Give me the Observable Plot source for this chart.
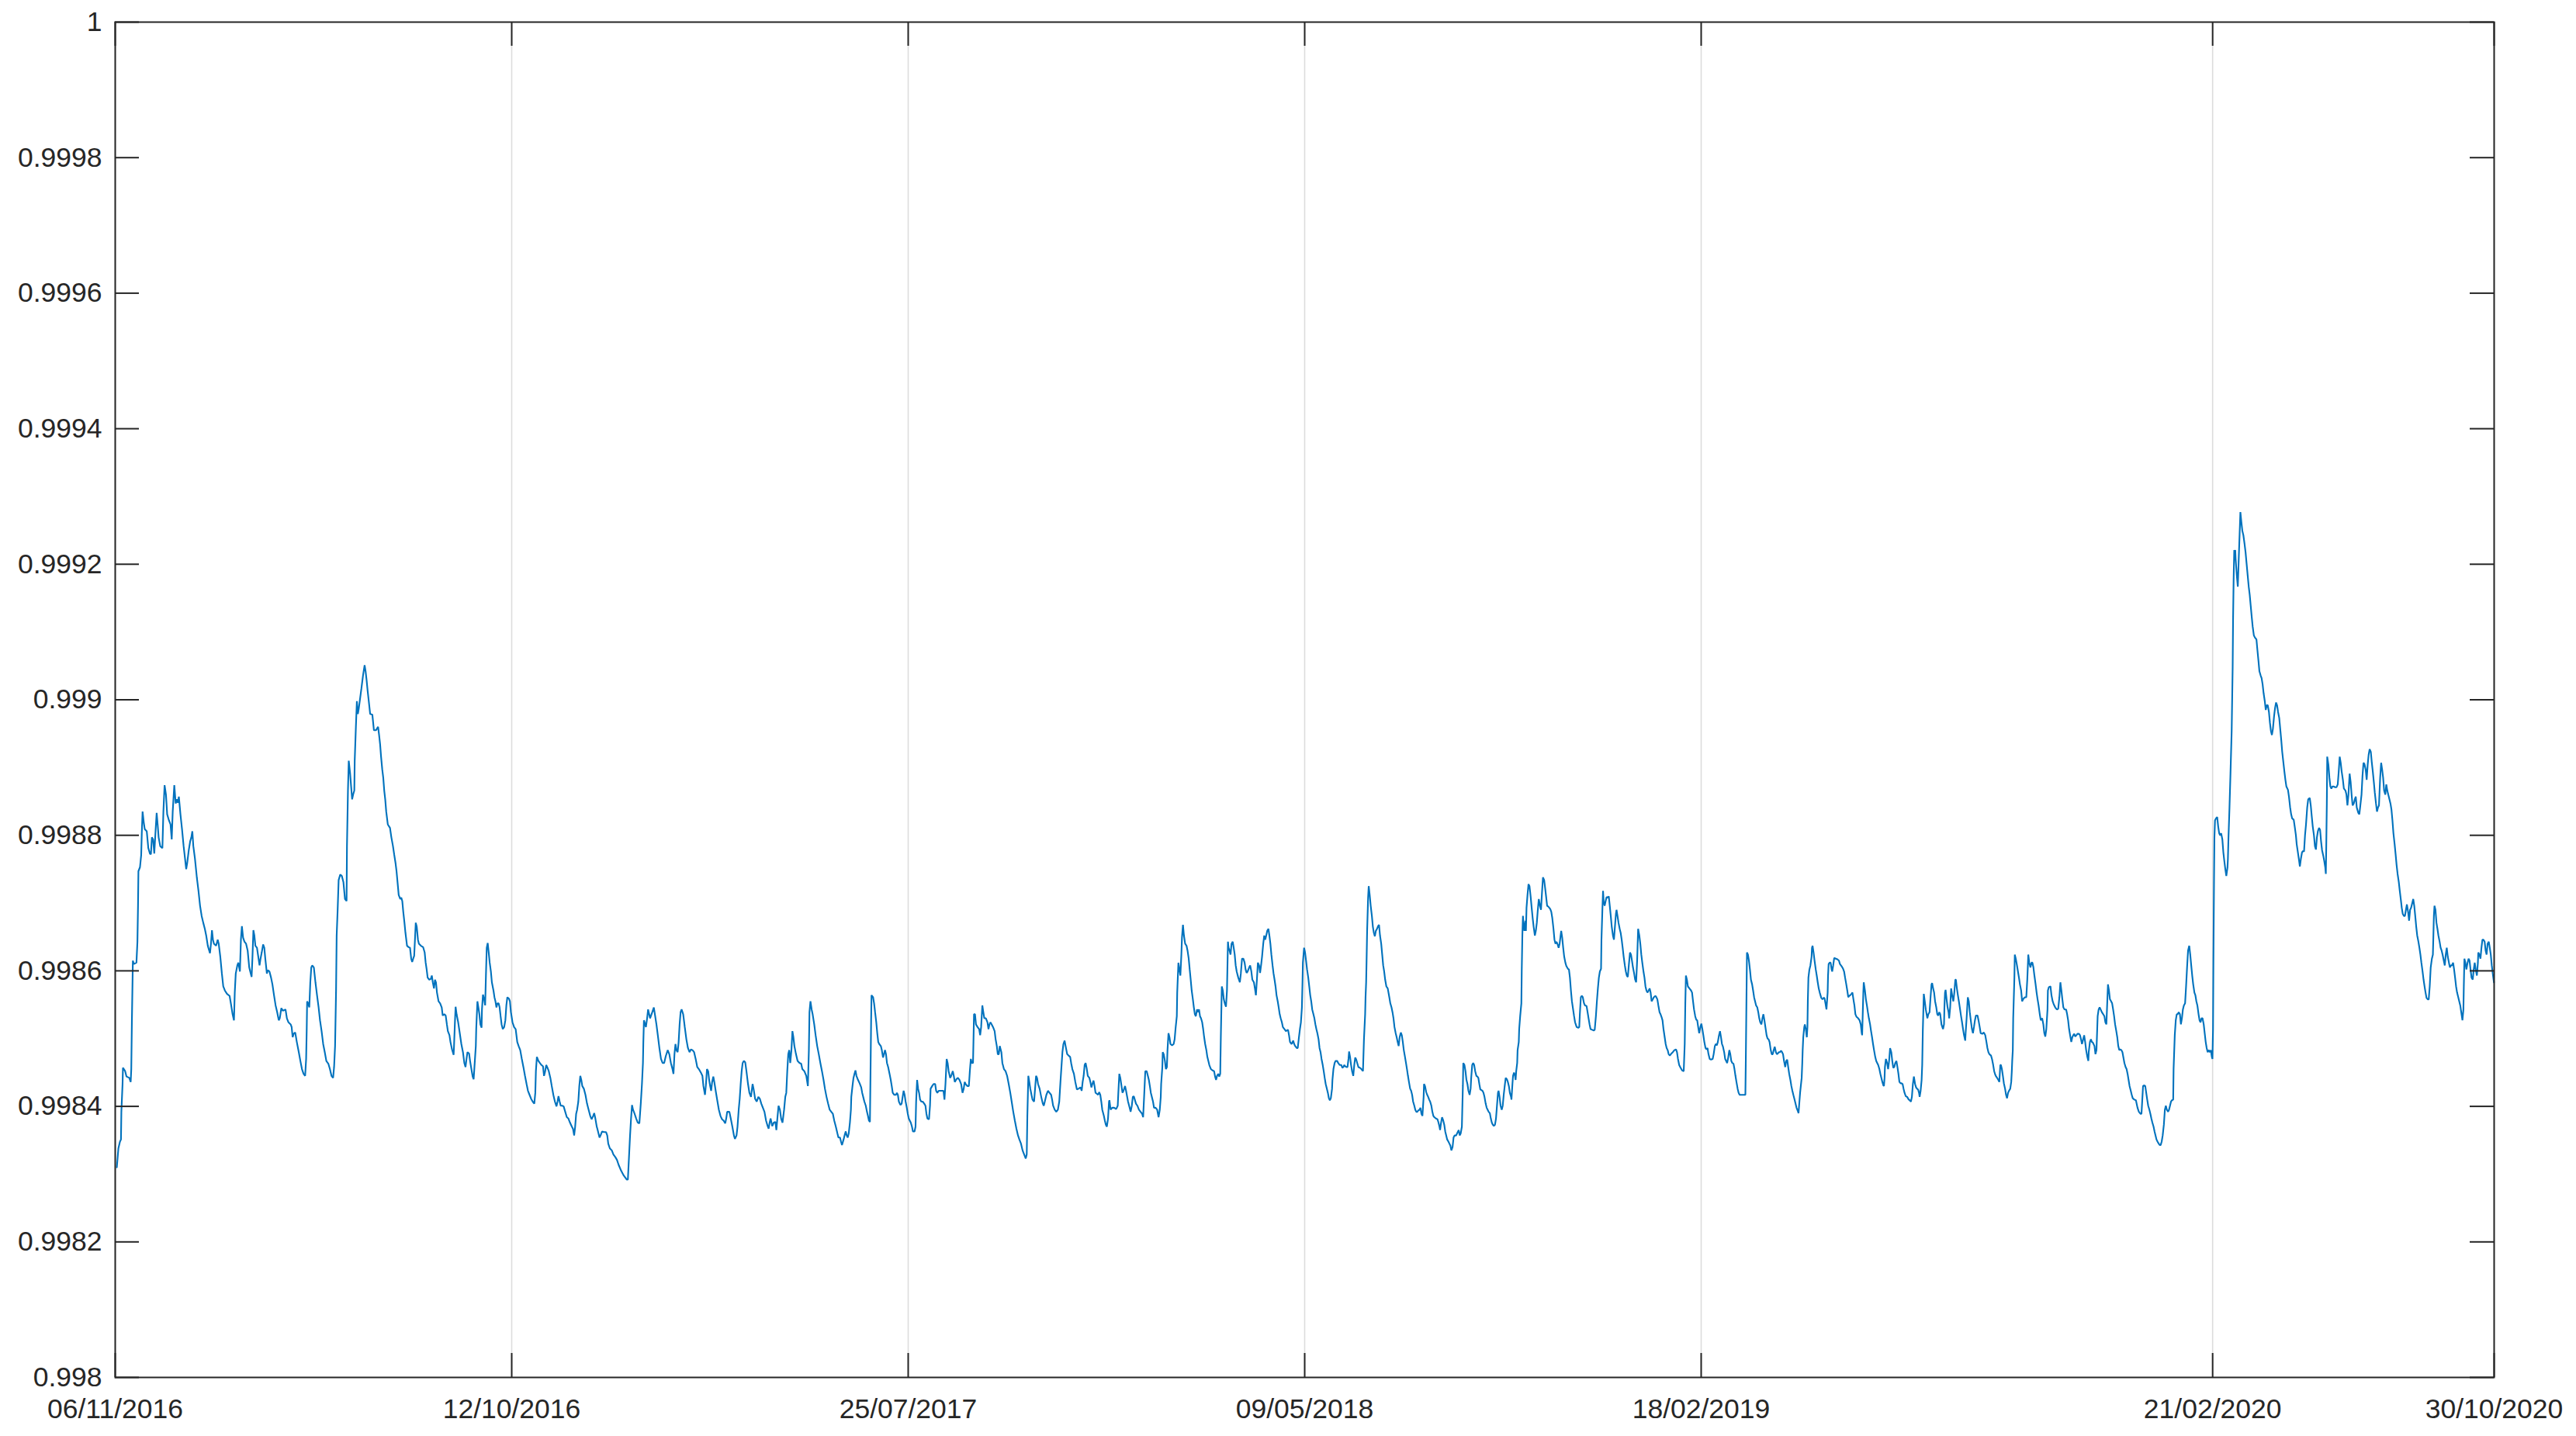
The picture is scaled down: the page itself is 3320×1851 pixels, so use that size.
<!DOCTYPE html>
<html>
<head>
<meta charset="utf-8">
<script src="https://cdn.jsdelivr.net/npm/d3@7"></script>
<script src="https://cdn.jsdelivr.net/npm/@observablehq/plot@0.6"></script>
<style>
  html, body { margin: 0; padding: 0; background: #ffffff; }
  #chart svg { display: block; }
</style>
</head>
<body>
<div id="chart"></div>
<script>
// x: observation index; tick positions and labels
const xTickIndex = [0, 200, 400, 600, 800, 1058, 1200];
const xTickLabels = ["06/11/2016", "12/10/2016", "25/07/2017", "09/05/2018", "18/02/2019", "21/02/2020", "30/10/2020"];
const yTickValues = [0.998, 0.9982, 0.9984, 0.9986, 0.9988, 0.999, 0.9992, 0.9994, 0.9996, 0.9998, 1];
const yTickLabels = ["0.998", "0.9982", "0.9984", "0.9986", "0.9988", "0.999", "0.9992", "0.9994", "0.9996", "0.9998", "1"];

const readings = [
[0.8,0.998310],[1.6,0.998338],[2.4,0.998348],[2.9,0.998351],[3.1,0.998392],[3.7,0.998433],[3.9,0.998457],[5.0,0.998452],[5.7,0.998444],[7.1,0.998442],
[7.8,0.998436],[8.1,0.998455],[8.4,0.998524],[8.9,0.998615],[9.4,0.998610],[10.7,0.998612],[11.2,0.998643],[11.5,0.998696],[11.7,0.998747],[12.5,0.998753],
[13.1,0.998771],[13.4,0.998803],[13.8,0.998835],[14.4,0.998819],[14.9,0.998809],[15.9,0.998806],[16.7,0.998781],[17.5,0.998773],[18.0,0.998772],[18.5,0.998797],
[19.1,0.998794],[19.7,0.998773],[20.4,0.998809],[20.9,0.998833],[21.4,0.998816],[21.9,0.998797],[22.7,0.998784],[23.8,0.998781],[24.3,0.998835],[24.9,0.998874],
[25.6,0.998860],[26.2,0.998831],[27.1,0.998822],[27.9,0.998816],[28.5,0.998794],[29.0,0.998835],[29.8,0.998874],[30.5,0.998847],[31.1,0.998853],[31.6,0.998848],
[32.1,0.998857],[32.9,0.998831],[33.7,0.998809],[34.5,0.998784],[35.2,0.998766],[35.8,0.998750],[36.3,0.998759],[37.1,0.998778],[37.8,0.998791],[38.4,0.998797],
[38.9,0.998806],[39.4,0.998784],[40.2,0.998766],[41.2,0.998737],[42.0,0.998718],[42.8,0.998696],[43.6,0.998681],[44.4,0.998671],[45.2,0.998662],[45.9,0.998652],
[46.7,0.998637],[47.8,0.998626],[48.3,0.998640],[48.8,0.998660],[49.3,0.998646],[49.8,0.998640],[50.9,0.998637],[51.7,0.998646],[52.2,0.998640],[53.0,0.998621],
[53.8,0.998596],[54.5,0.998577],[55.3,0.998571],[56.4,0.998566],[57.7,0.998563],[58.5,0.998549],[59.2,0.998536],[59.9,0.998527],[60.3,0.998568],[60.8,0.998596],
[61.6,0.998608],[62.1,0.998612],[62.9,0.998599],[63.4,0.998646],[63.9,0.998666],[64.5,0.998649],[65.2,0.998643],[66.0,0.998640],[66.8,0.998630],[67.6,0.998605],
[68.1,0.998599],[68.8,0.998591],[69.2,0.998618],[69.7,0.998660],[70.2,0.998652],[70.7,0.998637],[71.5,0.998634],[72.0,0.998624],[72.8,0.998608],[73.3,0.998618],
[73.9,0.998627],[74.6,0.998639],[75.2,0.998634],[75.7,0.998618],[76.5,0.998596],[77.0,0.998601],[77.8,0.998599],[78.6,0.998590],[79.3,0.998580],[80.1,0.998564],
[80.9,0.998549],[81.7,0.998539],[82.5,0.998527],[83.0,0.998530],[83.8,0.998545],[84.6,0.998541],[85.9,0.998543],[86.6,0.998530],[87.4,0.998524],[88.5,0.998521],
[89.0,0.998517],[89.5,0.998502],[90.0,0.998507],[90.8,0.998509],[91.6,0.998495],[92.6,0.998480],[93.4,0.998467],[94.2,0.998455],[95.0,0.998448],[95.8,0.998445],
[96.3,0.998470],[96.6,0.998514],[96.8,0.998555],[97.3,0.998552],[97.9,0.998546],[98.4,0.998583],[98.9,0.998605],[99.4,0.998608],[100.2,0.998605],[101.0,0.998583],
[101.8,0.998564],[102.6,0.998546],[103.3,0.998527],[104.1,0.998511],[104.9,0.998492],[105.7,0.998480],[106.5,0.998467],[107.5,0.998463],[108.3,0.998455],[109.1,0.998445],
[109.9,0.998442],[110.4,0.998458],[110.9,0.998489],[111.4,0.998571],[111.7,0.998652],[112.2,0.998690],[112.7,0.998734],[113.5,0.998742],[114.3,0.998740],[115.1,0.998731],
[115.9,0.998706],[116.7,0.998703],[116.9,0.998784],[117.4,0.998866],[117.8,0.998910],[118.5,0.998891],[119.0,0.998872],[119.5,0.998853],[120.0,0.998860],[120.6,0.998866],
[120.8,0.998910],[121.4,0.998960],[121.9,0.998998],[122.4,0.998979],[122.9,0.998988],[124.2,0.999017],[125.0,0.999036],[125.8,0.999051],[126.3,0.999042],[126.8,0.999029],
[127.3,0.999014],[127.9,0.998998],[128.6,0.998979],[129.7,0.998978],[130.5,0.998955],[131.5,0.998955],[132.6,0.998960],[133.1,0.998948],[133.6,0.998935],[134.1,0.998916],
[134.7,0.998897],[135.2,0.998885],[135.7,0.998866],[136.2,0.998853],[136.7,0.998835],[137.5,0.998816],[138.6,0.998811],[139.3,0.998797],[140.1,0.998784],[140.7,0.998772],
[141.4,0.998759],[141.9,0.998747],[142.5,0.998728],[143.0,0.998712],[143.8,0.998706],[144.3,0.998708],[144.8,0.998703],[145.3,0.998687],[145.9,0.998671],[146.4,0.998656],
[147.2,0.998637],[148.0,0.998635],[148.7,0.998634],[149.3,0.998618],[149.8,0.998613],[150.3,0.998618],[150.8,0.998622],[151.2,0.998646],[151.6,0.998671],[152.1,0.998665],
[152.7,0.998646],[153.2,0.998640],[154.2,0.998637],[155.3,0.998635],[156.1,0.998627],[156.6,0.998612],[157.1,0.998602],[157.6,0.998590],[158.4,0.998587],[159.2,0.998588],
[159.7,0.998593],[160.2,0.998583],[160.8,0.998574],[161.3,0.998587],[161.8,0.998583],[162.3,0.998568],[163.1,0.998555],[163.9,0.998552],[164.7,0.998546],[165.2,0.998534],
[166.0,0.998536],[166.7,0.998534],[167.3,0.998521],[167.8,0.998511],[168.6,0.998505],[169.1,0.998495],[169.9,0.998484],[170.7,0.998476],[170.9,0.998489],[171.4,0.998527],
[171.7,0.998547],[172.2,0.998536],[173.0,0.998524],[173.8,0.998508],[174.6,0.998492],[175.4,0.998480],[176.1,0.998464],[176.7,0.998458],[177.2,0.998470],[177.7,0.998480],
[178.5,0.998478],[179.0,0.998467],[179.5,0.998458],[180.3,0.998444],[180.8,0.998440],[181.4,0.998467],[181.9,0.998489],[182.1,0.998514],[182.7,0.998555],[183.2,0.998546],
[183.7,0.998536],[184.2,0.998521],[184.8,0.998516],[185.0,0.998543],[185.5,0.998565],[186.1,0.998558],[186.6,0.998549],[187.0,0.998593],[187.4,0.998634],[187.9,0.998641],
[188.4,0.998627],[188.9,0.998612],[189.5,0.998599],[190.0,0.998583],[190.8,0.998571],[191.3,0.998561],[191.8,0.998555],[192.3,0.998546],[192.8,0.998552],[193.4,0.998552],
[193.9,0.998546],[194.4,0.998533],[194.9,0.998521],[195.5,0.998514],[196.2,0.998517],[196.8,0.998527],[197.3,0.998549],[197.8,0.998561],[198.6,0.998559],[199.1,0.998555],
[199.6,0.998539],[200.4,0.998524],[201.2,0.998517],[202.0,0.998514],[202.8,0.998495],[203.5,0.998489],[204.3,0.998483],[205.1,0.998470],[205.9,0.998458],[206.7,0.998445],
[207.5,0.998433],[208.2,0.998423],[209.0,0.998417],[209.8,0.998411],[210.6,0.998407],[211.4,0.998404],[211.9,0.998420],[212.2,0.998452],[212.7,0.998473],[213.5,0.998467],
[214.2,0.998464],[215.0,0.998461],[215.8,0.998459],[216.3,0.998445],[216.9,0.998452],[217.4,0.998461],[217.9,0.998458],[218.7,0.998452],[219.5,0.998442],[220.2,0.998430],
[221.0,0.998417],[221.8,0.998407],[222.6,0.998400],[223.1,0.998407],[223.6,0.998415],[224.2,0.998407],[224.7,0.998401],[225.5,0.998401],[226.2,0.998400],[227.0,0.998392],
[227.8,0.998384],[228.6,0.998382],[229.4,0.998376],[230.2,0.998371],[230.9,0.998367],[231.5,0.998357],[232.0,0.998370],[232.5,0.998389],[233.0,0.998395],[233.6,0.998407],
[234.1,0.998430],[234.6,0.998445],[235.1,0.998439],[235.6,0.998430],[236.4,0.998426],[237.2,0.998417],[238.0,0.998404],[238.8,0.998395],[239.6,0.998386],[240.3,0.998381],
[241.1,0.998386],[241.6,0.998390],[242.2,0.998382],[242.9,0.998370],[243.2,0.998367],[244.3,0.998354],[244.8,0.998357],[245.6,0.998363],[246.6,0.998362],[247.6,0.998362],
[248.2,0.998357],[248.7,0.998345],[249.5,0.998338],[250.5,0.998335],[251.3,0.998329],[252.3,0.998325],[253.1,0.998321],[253.9,0.998314],[255.2,0.998305],[256.5,0.998298],
[258.0,0.998292],[258.6,0.998292],[259.7,0.998357],[260.2,0.998382],[260.7,0.998402],[261.2,0.998395],[262.0,0.998389],[262.8,0.998382],[263.6,0.998376],[264.4,0.998375],
[265.1,0.998404],[265.7,0.998433],[266.2,0.998464],[266.4,0.998495],[266.7,0.998527],[267.7,0.998517],[268.3,0.998530],[268.8,0.998543],[269.8,0.998530],[270.9,0.998539],
[271.7,0.998546],[273.0,0.998521],[273.7,0.998505],[274.5,0.998486],[275.3,0.998470],[276.1,0.998464],[276.9,0.998464],[277.7,0.998474],[278.7,0.998483],[279.5,0.998477],
[280.3,0.998464],[281.1,0.998455],[281.6,0.998448],[282.1,0.998477],[282.6,0.998492],[283.1,0.998483],[283.7,0.998480],[284.2,0.998495],[284.7,0.998521],[285.2,0.998539],
[285.7,0.998543],[286.5,0.998536],[287.3,0.998517],[288.1,0.998499],[288.9,0.998486],[289.7,0.998480],[290.4,0.998484],[291.2,0.998483],[292.0,0.998480],[292.8,0.998470],
[293.6,0.998458],[294.4,0.998455],[295.4,0.998450],[296.2,0.998445],[296.7,0.998430],[297.5,0.998417],[298.0,0.998433],[298.5,0.998455],[299.1,0.998452],[299.6,0.998439],
[300.1,0.998430],[300.6,0.998423],[301.1,0.998436],[301.7,0.998444],[302.2,0.998436],[303.0,0.998421],[303.8,0.998407],[304.5,0.998395],[305.3,0.998386],[306.1,0.998381],
[306.9,0.998379],[307.7,0.998375],[308.2,0.998382],[308.7,0.998392],[309.8,0.998392],[310.5,0.998382],[311.3,0.998370],[312.1,0.998357],[312.6,0.998352],[313.4,0.998357],
[313.9,0.998370],[314.5,0.998395],[315.0,0.998411],[315.5,0.998433],[316.0,0.998452],[316.5,0.998464],[317.1,0.998467],[317.8,0.998465],[318.4,0.998452],[319.2,0.998433],
[319.9,0.998420],[320.7,0.998414],[321.5,0.998433],[322.0,0.998426],[322.8,0.998411],[323.6,0.998407],[324.4,0.998414],[325.2,0.998411],[325.9,0.998404],[326.7,0.998398],
[327.5,0.998392],[328.3,0.998379],[329.1,0.998371],[329.6,0.998367],[330.1,0.998376],[330.6,0.998382],[331.4,0.998371],[332.2,0.998376],[333.0,0.998377],[333.5,0.998365],
[334.0,0.998382],[334.6,0.998401],[335.3,0.998395],[335.9,0.998382],[336.6,0.998376],[337.4,0.998395],[338.0,0.998414],[338.5,0.998420],[339.0,0.998452],[339.5,0.998477],
[340.0,0.998483],[340.5,0.998464],[341.1,0.998483],[341.6,0.998511],[342.1,0.998502],[342.6,0.998489],[343.4,0.998477],[344.2,0.998467],[345.2,0.998464],[346.0,0.998463],
[346.6,0.998455],[347.6,0.998452],[348.6,0.998445],[349.4,0.998430],[349.9,0.998483],[350.2,0.998539],[350.7,0.998555],[351.3,0.998543],[351.8,0.998536],[352.6,0.998521],
[353.3,0.998505],[354.1,0.998489],[354.9,0.998477],[355.7,0.998464],[356.5,0.998452],[357.3,0.998439],[358.0,0.998426],[358.8,0.998414],[359.6,0.998404],[360.4,0.998395],
[361.2,0.998392],[362.0,0.998389],[362.7,0.998379],[363.5,0.998370],[364.3,0.998360],[364.8,0.998354],[365.6,0.998354],[366.1,0.998348],[366.6,0.998343],[367.4,0.998351],
[367.9,0.998357],[368.5,0.998363],[369.0,0.998357],[369.5,0.998354],[370.0,0.998360],[370.6,0.998376],[371.1,0.998395],[371.3,0.998414],[371.9,0.998430],[372.4,0.998442],
[372.9,0.998448],[373.4,0.998453],[373.9,0.998445],[374.7,0.998439],[375.5,0.998434],[376.3,0.998428],[376.8,0.998420],[377.3,0.998414],[377.9,0.998407],[378.6,0.998401],
[379.2,0.998392],[379.7,0.998386],[380.2,0.998379],[380.7,0.998377],[381.0,0.998451],[381.3,0.998527],[381.5,0.998564],[382.3,0.998561],[382.8,0.998552],[383.3,0.998539],
[383.9,0.998524],[384.4,0.998508],[384.9,0.998495],[385.4,0.998492],[386.2,0.998489],[386.7,0.998483],[387.3,0.998472],[387.8,0.998477],[388.3,0.998483],[388.8,0.998477],
[389.3,0.998464],[389.9,0.998458],[390.6,0.998448],[391.2,0.998439],[391.7,0.998430],[392.2,0.998420],[393.0,0.998417],[393.8,0.998417],[394.3,0.998420],[394.8,0.998417],
[395.3,0.998407],[396.1,0.998402],[396.7,0.998404],[397.2,0.998414],[397.7,0.998423],[398.2,0.998417],[398.7,0.998407],[399.3,0.998398],[399.8,0.998389],[400.3,0.998382],
[400.8,0.998379],[401.3,0.998376],[401.9,0.998370],[402.4,0.998363],[403.2,0.998363],[403.7,0.998370],[404.0,0.998407],[404.5,0.998439],[405.0,0.998426],[405.5,0.998420],
[406.0,0.998410],[406.6,0.998407],[407.3,0.998407],[408.1,0.998404],[408.7,0.998401],[409.2,0.998389],[409.7,0.998382],[410.5,0.998381],[411.0,0.998401],[411.3,0.998426],
[412.1,0.998430],[412.8,0.998433],[413.6,0.998433],[414.1,0.998423],[414.7,0.998420],[415.4,0.998423],[416.2,0.998423],[417.0,0.998423],[417.8,0.998423],[418.3,0.998410],
[418.8,0.998433],[419.4,0.998470],[419.9,0.998464],[420.4,0.998452],[421.2,0.998442],[421.7,0.998445],[422.5,0.998452],[423.0,0.998445],[423.5,0.998436],[424.3,0.998440],
[425.1,0.998442],[425.9,0.998439],[426.7,0.998433],[427.4,0.998420],[428.0,0.998426],[428.5,0.998436],[429.0,0.998433],[429.8,0.998430],[430.6,0.998430],[431.1,0.998452],
[431.6,0.998470],[432.1,0.998464],[432.7,0.998464],[433.2,0.998536],[433.7,0.998536],[434.2,0.998521],[435.0,0.998517],[435.8,0.998514],[436.3,0.998505],[436.8,0.998517],
[437.4,0.998549],[437.9,0.998539],[438.4,0.998530],[439.2,0.998530],[440.0,0.998524],[440.5,0.998514],[441.0,0.998521],[441.5,0.998524],[442.1,0.998521],[442.8,0.998517],
[443.6,0.998511],[444.1,0.998499],[444.7,0.998489],[445.2,0.998477],[445.7,0.998477],[446.2,0.998489],[447.0,0.998480],[447.5,0.998464],[448.3,0.998455],[449.1,0.998452],
[449.9,0.998445],[450.7,0.998433],[451.5,0.998420],[452.2,0.998407],[453.0,0.998392],[453.8,0.998379],[454.6,0.998367],[455.4,0.998357],[456.1,0.998351],[456.9,0.998345],
[457.7,0.998335],[458.5,0.998329],[459.3,0.998323],[459.8,0.998329],[460.1,0.998385],[460.6,0.998445],[461.1,0.998436],[461.6,0.998426],[462.2,0.998417],[462.7,0.998410],
[463.5,0.998407],[464.0,0.998426],[464.5,0.998445],[465.0,0.998442],[465.5,0.998433],[466.3,0.998426],[467.1,0.998414],[467.9,0.998404],[468.4,0.998401],[468.9,0.998407],
[469.7,0.998417],[470.5,0.998423],[471.3,0.998420],[472.1,0.998417],[472.6,0.998410],[473.1,0.998401],[473.9,0.998395],[474.7,0.998392],[475.5,0.998395],[476.2,0.998407],
[476.8,0.998436],[477.3,0.998458],[477.8,0.998480],[478.3,0.998492],[478.9,0.998497],[479.4,0.998489],[480.2,0.998477],[480.9,0.998475],[481.7,0.998473],[482.2,0.998464],
[482.8,0.998455],[483.6,0.998448],[484.3,0.998436],[485.1,0.998425],[485.9,0.998426],[486.9,0.998428],[487.5,0.998423],[488.0,0.998436],[488.5,0.998445],[489.0,0.998461],
[489.5,0.998464],[490.1,0.998455],[490.6,0.998445],[491.4,0.998442],[491.9,0.998436],[492.4,0.998428],[492.9,0.998433],[493.5,0.998438],[494.0,0.998430],[494.5,0.998420],
[495.0,0.998419],[495.8,0.998417],[496.3,0.998421],[496.9,0.998417],[497.4,0.998407],[497.9,0.998395],[498.7,0.998386],[499.2,0.998379],[499.7,0.998373],[500.2,0.998370],
[500.8,0.998382],[501.3,0.998407],[501.5,0.998409],[502.1,0.998395],[502.9,0.998398],[503.9,0.998398],[504.9,0.998396],[505.7,0.998401],[506.0,0.998420],[506.5,0.998448],
[507.0,0.998442],[507.6,0.998430],[508.1,0.998420],[508.6,0.998423],[509.4,0.998430],[509.9,0.998423],[510.4,0.998415],[510.9,0.998407],[511.7,0.998398],[512.2,0.998392],
[512.8,0.998401],[513.3,0.998414],[513.8,0.998415],[514.3,0.998410],[514.9,0.998404],[515.6,0.998401],[516.4,0.998395],[517.2,0.998392],[518.0,0.998389],[518.5,0.998384],
[519.0,0.998414],[519.6,0.998452],[520.3,0.998452],[520.9,0.998445],[521.4,0.998439],[521.9,0.998430],[522.4,0.998420],[522.9,0.998414],[523.5,0.998407],[524.0,0.998398],
[524.8,0.998398],[525.6,0.998395],[526.3,0.998384],[526.9,0.998395],[527.4,0.998414],[527.6,0.998433],[528.2,0.998458],[528.4,0.998480],[528.9,0.998477],[529.5,0.998467],
[530.0,0.998455],[530.5,0.998458],[530.8,0.998483],[531.3,0.998508],[531.8,0.998502],[532.3,0.998492],[533.1,0.998490],[533.9,0.998492],[534.4,0.998499],[534.9,0.998516],
[535.5,0.998533],[535.7,0.998568],[536.3,0.998612],[536.8,0.998602],[537.3,0.998593],[537.8,0.998624],[538.1,0.998649],[538.6,0.998668],[539.1,0.998652],[539.7,0.998640],
[540.4,0.998637],[540.9,0.998630],[541.5,0.998618],[542.0,0.998602],[542.5,0.998587],[543.0,0.998571],[543.6,0.998558],[544.1,0.998546],[544.6,0.998536],[545.1,0.998533],
[545.7,0.998543],[546.2,0.998539],[546.7,0.998543],[547.2,0.998533],[547.7,0.998530],[548.3,0.998524],[548.8,0.998514],[549.3,0.998502],[549.8,0.998492],[550.4,0.998483],
[550.9,0.998473],[551.4,0.998467],[551.9,0.998461],[552.7,0.998455],[553.5,0.998453],[554.3,0.998452],[554.8,0.998444],[555.3,0.998439],[555.8,0.998445],[556.4,0.998448],
[556.9,0.998444],[557.4,0.998448],[557.7,0.998502],[558.2,0.998577],[558.7,0.998571],[559.2,0.998558],[559.7,0.998552],[560.3,0.998547],[560.8,0.998571],[561.3,0.998643],
[561.6,0.998634],[562.1,0.998630],[562.6,0.998624],[563.1,0.998640],[563.7,0.998643],[564.2,0.998634],[564.7,0.998624],[565.2,0.998608],[565.7,0.998599],[566.5,0.998590],
[567.3,0.998583],[567.8,0.998596],[568.4,0.998618],[569.1,0.998618],[569.7,0.998612],[570.2,0.998602],[570.7,0.998597],[571.2,0.998599],[572.0,0.998605],[572.5,0.998608],
[573.1,0.998599],[573.6,0.998587],[574.4,0.998583],[574.9,0.998574],[575.4,0.998564],[575.9,0.998587],[576.4,0.998612],[577.0,0.998608],[577.5,0.998597],[578.0,0.998608],
[578.5,0.998621],[579.1,0.998640],[579.6,0.998652],[580.1,0.998646],[580.6,0.998652],[581.1,0.998659],[581.7,0.998662],[582.2,0.998652],[582.7,0.998640],[583.2,0.998624],
[583.8,0.998608],[584.3,0.998596],[584.8,0.998587],[585.3,0.998577],[585.8,0.998564],[586.4,0.998555],[586.9,0.998546],[587.4,0.998536],[587.9,0.998530],[588.5,0.998524],
[589.0,0.998517],[589.8,0.998514],[590.5,0.998511],[591.6,0.998513],[592.1,0.998505],[592.6,0.998495],[593.4,0.998492],[594.2,0.998497],[594.7,0.998492],[595.2,0.998489],
[596.0,0.998486],[596.5,0.998486],[597.1,0.998502],[597.6,0.998514],[598.1,0.998524],[598.6,0.998546],[598.9,0.998583],[599.1,0.998612],[599.7,0.998634],[600.2,0.998627],
[600.7,0.998615],[601.2,0.998602],[601.8,0.998590],[602.3,0.998577],[602.8,0.998564],[603.3,0.998555],[603.8,0.998543],[604.4,0.998536],[604.9,0.998530],[605.4,0.998521],
[605.9,0.998514],[606.4,0.998508],[607.0,0.998499],[607.5,0.998486],[608.0,0.998480],[608.5,0.998470],[609.1,0.998461],[609.6,0.998452],[610.1,0.998442],[610.6,0.998433],
[611.2,0.998426],[611.7,0.998420],[612.2,0.998412],[612.7,0.998409],[613.2,0.998412],[613.8,0.998426],[614.0,0.998439],[614.5,0.998455],[615.1,0.998464],[615.6,0.998467],
[616.4,0.998467],[616.9,0.998464],[617.7,0.998461],[618.5,0.998461],[619.0,0.998457],[619.5,0.998458],[620.0,0.998461],[620.5,0.998459],[621.1,0.998458],[621.6,0.998458],
[622.1,0.998470],[622.4,0.998481],[622.9,0.998473],[623.4,0.998461],[623.9,0.998452],[624.5,0.998445],[625.0,0.998461],[625.5,0.998472],[626.0,0.998469],[626.5,0.998464],
[627.1,0.998458],[627.8,0.998457],[628.6,0.998455],[629.4,0.998452],[629.9,0.998499],[630.5,0.998536],[630.7,0.998561],[631.0,0.998583],[631.2,0.998612],[631.5,0.998659],
[632.0,0.998709],[632.3,0.998725],[632.8,0.998712],[633.3,0.998696],[633.9,0.998681],[634.4,0.998665],[634.9,0.998656],[635.4,0.998651],[635.9,0.998659],[636.5,0.998662],
[637.0,0.998666],[637.5,0.998668],[638.0,0.998652],[638.6,0.998640],[639.1,0.998624],[639.6,0.998608],[640.1,0.998599],[640.6,0.998587],[641.2,0.998577],[641.9,0.998574],
[642.7,0.998561],[643.2,0.998552],[643.8,0.998546],[644.3,0.998539],[644.8,0.998530],[645.3,0.998517],[645.9,0.998508],[646.4,0.998502],[646.9,0.998495],[647.4,0.998489],
[647.9,0.998502],[648.5,0.998509],[649.0,0.998505],[649.5,0.998495],[650.0,0.998483],[650.6,0.998473],[651.1,0.998464],[651.6,0.998455],[652.1,0.998445],[652.6,0.998436],
[653.2,0.998426],[653.7,0.998423],[654.2,0.998417],[654.7,0.998407],[655.3,0.998401],[655.8,0.998395],[656.3,0.998392],[656.8,0.998392],[657.3,0.998394],[657.9,0.998395],
[658.4,0.998398],[658.9,0.998389],[659.4,0.998386],[660.0,0.998414],[660.2,0.998433],[660.7,0.998430],[661.3,0.998421],[661.8,0.998417],[662.3,0.998414],[662.8,0.998410],
[663.3,0.998407],[663.9,0.998401],[664.4,0.998392],[664.9,0.998386],[665.4,0.998384],[666.2,0.998382],[667.0,0.998381],[667.5,0.998376],[668.0,0.998370],[668.3,0.998365],
[668.8,0.998376],[669.3,0.998384],[669.9,0.998379],[670.4,0.998373],[670.9,0.998363],[671.4,0.998357],[671.9,0.998351],[672.5,0.998348],[673.0,0.998345],[673.5,0.998342],
[674.0,0.998335],[674.6,0.998340],[675.1,0.998354],[675.6,0.998357],[676.4,0.998357],[677.2,0.998362],[677.7,0.998365],[678.2,0.998357],[678.7,0.998360],[679.3,0.998370],
[679.5,0.998395],[679.8,0.998430],[680.0,0.998464],[680.6,0.998461],[681.1,0.998452],[681.6,0.998439],[682.1,0.998433],[682.6,0.998423],[683.2,0.998417],[683.7,0.998426],
[684.0,0.998442],[684.5,0.998461],[685.0,0.998464],[685.5,0.998461],[686.0,0.998452],[686.6,0.998445],[687.1,0.998444],[687.6,0.998442],[688.1,0.998433],[688.6,0.998425],
[689.2,0.998424],[689.7,0.998423],[690.2,0.998420],[690.7,0.998414],[691.3,0.998404],[691.8,0.998398],[692.3,0.998395],[692.8,0.998392],[693.4,0.998390],[693.9,0.998382],
[694.4,0.998376],[694.9,0.998373],[695.4,0.998371],[696.0,0.998373],[696.5,0.998382],[697.0,0.998401],[697.5,0.998420],[697.8,0.998423],[698.3,0.998414],[698.8,0.998401],
[699.4,0.998395],[699.9,0.998401],[700.4,0.998417],[700.9,0.998430],[701.4,0.998442],[702.0,0.998440],[702.5,0.998436],[703.0,0.998430],[703.5,0.998420],[704.1,0.998414],
[704.3,0.998410],[704.8,0.998433],[705.1,0.998445],[705.6,0.998450],[706.1,0.998445],[706.4,0.998439],[706.7,0.998452],[707.2,0.998464],[707.4,0.998483],[708.0,0.998495],
[708.2,0.998514],[708.7,0.998533],[709.3,0.998552],[709.5,0.998602],[709.8,0.998652],[710.1,0.998681],[710.3,0.998674],[710.8,0.998659],[711.4,0.998674],[711.6,0.998659],
[711.9,0.998693],[712.4,0.998712],[712.9,0.998728],[713.4,0.998725],[714.0,0.998709],[714.5,0.998693],[715.0,0.998678],[715.5,0.998665],[716.1,0.998652],[716.6,0.998659],
[717.1,0.998671],[717.6,0.998690],[718.1,0.998706],[718.7,0.998696],[719.2,0.998690],[719.7,0.998715],[720.2,0.998738],[720.8,0.998734],[721.3,0.998722],[721.8,0.998709],
[722.3,0.998696],[722.8,0.998695],[723.4,0.998693],[723.9,0.998691],[724.4,0.998687],[724.9,0.998678],[725.5,0.998662],[726.0,0.998646],[726.5,0.998640],[727.0,0.998643],
[727.5,0.998640],[728.1,0.998634],[728.6,0.998640],[729.1,0.998652],[729.4,0.998659],[729.9,0.998649],[730.4,0.998634],[730.9,0.998621],[731.5,0.998612],[732.0,0.998607],
[732.8,0.998603],[733.3,0.998602],[733.8,0.998590],[734.3,0.998571],[734.8,0.998555],[735.4,0.998543],[735.9,0.998533],[736.4,0.998524],[737.2,0.998517],[738.0,0.998516],
[738.5,0.998517],[738.8,0.998536],[739.3,0.998561],[739.8,0.998563],[740.3,0.998561],[740.9,0.998552],[741.4,0.998549],[742.2,0.998548],[742.7,0.998539],[743.2,0.998530],
[743.7,0.998521],[744.2,0.998514],[745.0,0.998513],[745.8,0.998512],[746.3,0.998513],[746.9,0.998533],[747.4,0.998555],[747.9,0.998574],[748.4,0.998590],[748.9,0.998599],
[749.5,0.998603],[749.7,0.998646],[750.2,0.998693],[750.5,0.998718],[750.8,0.998703],[751.3,0.998696],[751.8,0.998703],[752.3,0.998709],[752.9,0.998708],[753.4,0.998710],
[753.9,0.998696],[754.4,0.998681],[754.9,0.998665],[755.5,0.998652],[756.0,0.998646],[756.5,0.998665],[757.0,0.998684],[757.3,0.998690],[757.8,0.998681],[758.3,0.998671],
[758.9,0.998662],[759.4,0.998656],[759.9,0.998646],[760.4,0.998634],[760.9,0.998621],[761.5,0.998608],[762.0,0.998599],[762.5,0.998593],[763.0,0.998591],[763.5,0.998608],
[764.1,0.998627],[764.6,0.998624],[765.1,0.998615],[765.6,0.998605],[766.2,0.998596],[766.7,0.998587],[767.2,0.998583],[767.7,0.998615],[768.2,0.998662],[768.8,0.998652],
[769.3,0.998640],[769.8,0.998624],[770.3,0.998612],[770.9,0.998599],[771.4,0.998590],[771.9,0.998577],[772.4,0.998571],[772.9,0.998568],[773.5,0.998571],[774.0,0.998574],
[774.5,0.998568],[775.0,0.998555],[775.6,0.998558],[776.1,0.998561],[776.9,0.998563],[777.4,0.998561],[777.9,0.998558],[778.4,0.998549],[779.0,0.998539],[779.5,0.998536],
[780.0,0.998532],[780.5,0.998527],[781.0,0.998514],[781.6,0.998502],[782.1,0.998492],[782.6,0.998486],[783.1,0.998483],[783.6,0.998477],[784.2,0.998475],[785.0,0.998478],
[785.7,0.998480],[786.5,0.998483],[787.3,0.998484],[787.8,0.998480],[788.3,0.998470],[788.9,0.998461],[789.6,0.998457],[790.4,0.998453],[791.2,0.998452],[791.7,0.998492],
[792.0,0.998552],[792.3,0.998593],[792.8,0.998587],[793.3,0.998577],[794.1,0.998574],[794.9,0.998571],[795.4,0.998568],[795.9,0.998555],[796.4,0.998543],[797.0,0.998533],
[797.5,0.998528],[798.0,0.998527],[798.5,0.998517],[799.0,0.998508],[799.6,0.998517],[800.1,0.998522],[800.6,0.998514],[801.1,0.998505],[801.6,0.998495],[802.2,0.998486],
[802.7,0.998484],[803.2,0.998486],[803.7,0.998477],[804.3,0.998470],[805.0,0.998469],[805.8,0.998470],[806.3,0.998477],[806.9,0.998489],[807.4,0.998492],[807.9,0.998490],
[808.4,0.998495],[809.0,0.998505],[809.5,0.998511],[810.0,0.998502],[810.5,0.998492],[811.0,0.998488],[811.6,0.998480],[812.1,0.998470],[812.6,0.998467],[813.1,0.998464],
[813.7,0.998473],[814.2,0.998483],[814.7,0.998477],[815.2,0.998467],[815.7,0.998464],[816.3,0.998463],[816.8,0.998455],[817.3,0.998445],[817.8,0.998436],[818.4,0.998426],
[818.9,0.998420],[819.4,0.998417],[820.2,0.998417],[821.0,0.998417],[821.7,0.998417],[822.3,0.998417],[822.5,0.998464],[822.8,0.998546],[823.1,0.998627],[823.6,0.998624],
[824.1,0.998615],[824.6,0.998602],[825.1,0.998587],[825.7,0.998580],[826.2,0.998571],[826.7,0.998561],[827.2,0.998555],[827.7,0.998549],[828.3,0.998546],[828.8,0.998539],
[829.3,0.998530],[829.8,0.998524],[830.4,0.998521],[830.9,0.998530],[831.4,0.998536],[831.9,0.998527],[832.4,0.998517],[833.0,0.998505],[833.5,0.998500],[834.0,0.998499],
[834.5,0.998495],[835.1,0.998483],[835.6,0.998477],[836.1,0.998477],[836.6,0.998483],[837.1,0.998488],[837.7,0.998480],[838.2,0.998477],[838.7,0.998478],[839.2,0.998480],
[839.7,0.998480],[840.3,0.998482],[840.8,0.998480],[841.3,0.998477],[841.8,0.998467],[842.4,0.998458],[842.9,0.998467],[843.4,0.998469],[843.9,0.998458],[844.4,0.998448],
[845.0,0.998439],[845.5,0.998430],[846.0,0.998423],[846.5,0.998417],[847.1,0.998410],[847.6,0.998404],[848.1,0.998398],[848.9,0.998392],[849.1,0.998390],[849.4,0.998401],
[849.9,0.998420],[850.7,0.998442],[851.0,0.998464],[851.2,0.998483],[851.5,0.998502],[852.0,0.998517],[852.3,0.998521],[852.8,0.998514],[853.3,0.998502],[853.6,0.998517],
[853.8,0.998555],[854.1,0.998590],[854.6,0.998602],[855.1,0.998608],[855.7,0.998621],[855.9,0.998634],[856.2,0.998637],[856.7,0.998627],[857.2,0.998615],[857.8,0.998602],
[858.3,0.998593],[858.8,0.998583],[859.3,0.998574],[859.8,0.998568],[860.6,0.998560],[861.2,0.998558],[861.7,0.998560],[862.2,0.998560],[862.7,0.998552],[863.2,0.998543],
[863.8,0.998568],[864.0,0.998593],[864.3,0.998610],[864.8,0.998612],[865.3,0.998612],[865.8,0.998602],[866.1,0.998599],[866.6,0.998608],[867.1,0.998619],[867.9,0.998618],
[868.7,0.998617],[869.5,0.998615],[870.0,0.998610],[870.8,0.998607],[871.6,0.998603],[872.1,0.998599],[872.6,0.998590],[873.2,0.998580],[873.7,0.998571],[874.2,0.998561],
[874.7,0.998563],[875.2,0.998564],[875.8,0.998566],[876.3,0.998568],[876.8,0.998558],[877.3,0.998549],[877.8,0.998536],[878.4,0.998532],[879.2,0.998530],[879.9,0.998527],
[880.5,0.998521],[881.0,0.998508],[881.2,0.998505],[881.5,0.998536],[881.8,0.998568],[882.0,0.998583],[882.6,0.998571],[883.1,0.998558],[883.6,0.998549],[884.1,0.998539],
[884.6,0.998530],[885.2,0.998521],[885.7,0.998511],[886.2,0.998502],[886.7,0.998492],[887.2,0.998483],[887.8,0.998473],[888.3,0.998467],[888.8,0.998464],[889.3,0.998461],
[889.9,0.998455],[890.4,0.998448],[890.9,0.998442],[891.4,0.998436],[891.9,0.998431],[892.2,0.998430],[892.5,0.998442],[892.7,0.998458],[893.2,0.998470],[893.8,0.998464],
[894.3,0.998455],[894.8,0.998467],[895.3,0.998486],[895.9,0.998480],[896.4,0.998467],[896.9,0.998457],[897.4,0.998458],[897.9,0.998464],[898.5,0.998467],[899.0,0.998458],
[899.5,0.998448],[900.0,0.998436],[900.6,0.998434],[901.1,0.998434],[901.6,0.998433],[902.1,0.998426],[902.6,0.998420],[903.2,0.998415],[903.9,0.998414],[904.7,0.998410],
[905.2,0.998409],[905.8,0.998407],[906.3,0.998414],[906.8,0.998433],[907.3,0.998444],[907.9,0.998433],[908.4,0.998428],[908.9,0.998426],[909.4,0.998425],[909.9,0.998420],
[910.2,0.998414],[910.7,0.998423],[911.2,0.998439],[911.5,0.998461],[911.8,0.998511],[912.3,0.998566],[912.8,0.998555],[913.3,0.998543],[913.9,0.998533],[914.1,0.998530],
[914.6,0.998536],[915.2,0.998539],[915.7,0.998561],[916.2,0.998580],[916.5,0.998582],[917.0,0.998574],[917.5,0.998568],[918.0,0.998555],[918.6,0.998546],[919.1,0.998536],
[919.6,0.998534],[920.1,0.998539],[920.6,0.998536],[921.2,0.998521],[922.0,0.998514],[922.5,0.998521],[922.7,0.998546],[923.0,0.998568],[923.3,0.998572],[923.8,0.998558],
[924.3,0.998546],[924.8,0.998539],[925.1,0.998530],[925.6,0.998546],[926.1,0.998574],[926.6,0.998564],[927.2,0.998555],[927.7,0.998568],[928.2,0.998587],[928.5,0.998587],
[929.0,0.998574],[929.5,0.998564],[930.0,0.998555],[930.6,0.998543],[931.1,0.998533],[931.6,0.998524],[932.1,0.998514],[932.6,0.998505],[933.2,0.998497],[933.4,0.998508],
[933.9,0.998530],[934.5,0.998561],[935.0,0.998555],[935.5,0.998539],[936.0,0.998527],[936.6,0.998514],[937.1,0.998508],[937.6,0.998517],[938.1,0.998527],[938.6,0.998534],
[939.4,0.998534],[939.9,0.998527],[940.5,0.998517],[941.0,0.998508],[941.8,0.998507],[942.6,0.998509],[943.3,0.998505],[943.9,0.998495],[944.4,0.998486],[944.9,0.998480],
[945.4,0.998477],[946.2,0.998475],[946.7,0.998470],[947.3,0.998461],[947.8,0.998452],[948.3,0.998447],[948.8,0.998444],[949.3,0.998442],[949.9,0.998439],[950.4,0.998436],
[950.9,0.998461],[951.2,0.998461],[951.7,0.998455],[952.2,0.998445],[952.7,0.998434],[953.3,0.998426],[953.8,0.998417],[954.3,0.998412],[954.8,0.998420],[955.3,0.998423],
[955.9,0.998426],[956.4,0.998436],[956.7,0.998452],[956.9,0.998467],[957.2,0.998483],[957.4,0.998530],[958.0,0.998590],[958.2,0.998624],[958.7,0.998618],[959.3,0.998608],
[959.8,0.998599],[960.3,0.998590],[960.8,0.998580],[961.4,0.998571],[961.9,0.998555],[962.4,0.998558],[962.9,0.998560],[963.4,0.998561],[964.0,0.998561],[964.5,0.998587],
[964.8,0.998608],[965.0,0.998624],[965.5,0.998612],[966.1,0.998605],[966.6,0.998612],[967.1,0.998612],[967.6,0.998605],[968.1,0.998593],[968.7,0.998580],[969.2,0.998568],
[969.7,0.998558],[970.2,0.998549],[970.8,0.998536],[971.3,0.998527],[972.0,0.998530],[972.6,0.998521],[973.1,0.998508],[973.6,0.998503],[974.1,0.998514],[974.7,0.998543],
[974.9,0.998571],[975.4,0.998576],[976.2,0.998577],[976.7,0.998564],[977.3,0.998555],[977.8,0.998551],[978.6,0.998546],[979.4,0.998543],[980.1,0.998544],[980.7,0.998561],
[981.2,0.998583],[981.7,0.998571],[982.2,0.998558],[982.7,0.998546],[983.3,0.998543],[984.1,0.998543],[984.6,0.998536],[985.1,0.998527],[985.6,0.998514],[986.1,0.998505],
[986.7,0.998495],[987.2,0.998502],[987.7,0.998505],[988.2,0.998507],[988.7,0.998503],[989.3,0.998505],[989.8,0.998507],[990.6,0.998507],[991.1,0.998505],[991.6,0.998499],
[992.1,0.998492],[992.7,0.998499],[993.2,0.998505],[993.7,0.998495],[994.2,0.998483],[994.8,0.998473],[995.3,0.998467],[995.5,0.998480],[996.1,0.998495],[996.6,0.998499],
[997.1,0.998495],[997.6,0.998494],[998.4,0.998489],[998.9,0.998477],[999.4,0.998483],[1000.0,0.998533],[1000.5,0.998543],[1001.0,0.998546],[1001.5,0.998543],[1002.1,0.998539],
[1002.8,0.998536],[1003.4,0.998533],[1003.9,0.998524],[1004.4,0.998521],[1004.7,0.998543],[1005.2,0.998580],[1005.7,0.998571],[1006.2,0.998558],[1006.8,0.998555],[1007.3,0.998552],
[1007.8,0.998543],[1008.3,0.998533],[1008.8,0.998521],[1009.4,0.998511],[1009.9,0.998502],[1010.4,0.998489],[1010.9,0.998483],[1011.4,0.998484],[1012.0,0.998483],[1012.5,0.998480],
[1013.0,0.998472],[1013.5,0.998464],[1014.1,0.998458],[1014.6,0.998455],[1015.1,0.998448],[1015.6,0.998439],[1016.1,0.998430],[1016.7,0.998423],[1017.2,0.998417],[1017.7,0.998412],
[1018.5,0.998410],[1019.3,0.998409],[1020.1,0.998398],[1020.8,0.998392],[1021.6,0.998389],[1022.1,0.998389],[1022.4,0.998404],[1022.9,0.998430],[1023.5,0.998431],[1024.0,0.998430],
[1024.5,0.998420],[1025.0,0.998410],[1025.5,0.998401],[1026.1,0.998395],[1026.6,0.998389],[1027.1,0.998382],[1027.6,0.998376],[1028.2,0.998370],[1028.7,0.998363],[1029.2,0.998357],
[1029.7,0.998351],[1030.2,0.998348],[1030.8,0.998345],[1031.3,0.998343],[1031.8,0.998343],[1032.3,0.998348],[1032.8,0.998357],[1033.4,0.998373],[1033.9,0.998395],[1034.4,0.998401],
[1034.9,0.998395],[1035.5,0.998392],[1036.0,0.998395],[1036.5,0.998401],[1037.0,0.998407],[1037.5,0.998409],[1038.1,0.998410],[1038.3,0.998455],[1038.9,0.998505],[1039.4,0.998527],
[1039.9,0.998536],[1040.4,0.998536],[1040.9,0.998539],[1041.5,0.998536],[1042.0,0.998521],[1042.5,0.998530],[1043.0,0.998543],[1043.5,0.998549],[1044.1,0.998552],[1044.6,0.998577],
[1045.1,0.998605],[1045.6,0.998630],[1046.2,0.998637],[1046.7,0.998624],[1047.2,0.998608],[1047.7,0.998593],[1048.2,0.998580],[1048.8,0.998568],[1049.3,0.998564],[1049.8,0.998555],
[1050.3,0.998549],[1050.9,0.998536],[1051.4,0.998527],[1051.9,0.998524],[1052.4,0.998530],[1052.9,0.998530],[1053.5,0.998521],[1054.0,0.998508],[1054.5,0.998495],[1055.0,0.998486],
[1055.5,0.998480],[1056.1,0.998483],[1056.6,0.998480],[1057.1,0.998483],[1057.6,0.998473],[1057.9,0.998470],[1058.2,0.998514],[1058.4,0.998618],[1058.7,0.998734],[1058.9,0.998797],
[1059.2,0.998822],[1059.7,0.998825],[1060.3,0.998827],[1060.8,0.998813],[1061.3,0.998803],[1061.8,0.998800],[1062.3,0.998803],[1062.9,0.998794],[1063.4,0.998775],[1063.9,0.998762],
[1064.4,0.998750],[1064.9,0.998740],[1065.5,0.998753],[1065.7,0.998765],[1066.0,0.998797],[1066.5,0.998841],[1067.0,0.998891],[1067.6,0.998954],[1068.1,0.999048],[1068.3,0.999117],
[1068.6,0.999180],[1068.9,0.999221],[1069.1,0.999211],[1069.4,0.999221],[1069.6,0.999208],[1070.2,0.999183],[1070.7,0.999167],[1071.2,0.999211],[1071.7,0.999252],[1072.0,0.999277],
[1072.5,0.999262],[1073.0,0.999249],[1073.5,0.999243],[1074.1,0.999230],[1074.6,0.999218],[1075.1,0.999202],[1075.6,0.999186],[1076.2,0.999167],[1076.7,0.999155],[1077.2,0.999139],
[1077.7,0.999123],[1078.2,0.999108],[1078.8,0.999095],[1079.3,0.999092],[1080.1,0.999089],[1080.6,0.999073],[1081.1,0.999058],[1081.6,0.999042],[1082.2,0.999036],[1082.7,0.999032],
[1083.2,0.999023],[1083.7,0.999010],[1084.3,0.998998],[1084.8,0.998985],[1085.3,0.998992],[1085.8,0.998992],[1086.4,0.998982],[1086.9,0.998966],[1087.4,0.998954],[1087.9,0.998948],
[1088.4,0.998957],[1089.0,0.998976],[1089.5,0.998988],[1090.0,0.998996],[1090.5,0.998992],[1091.0,0.998982],[1091.6,0.998973],[1092.1,0.998957],[1092.6,0.998941],[1093.1,0.998923],
[1093.7,0.998907],[1094.2,0.998894],[1094.7,0.998882],[1095.2,0.998872],[1096.0,0.998867],[1096.5,0.998857],[1097.1,0.998841],[1097.6,0.998831],[1098.1,0.998825],[1098.9,0.998823],
[1099.4,0.998813],[1100.0,0.998800],[1100.4,0.998787],[1101.0,0.998775],[1101.5,0.998765],[1102.0,0.998754],[1102.5,0.998765],[1103.1,0.998775],[1103.6,0.998777],[1104.1,0.998776],
[1104.6,0.998800],[1105.1,0.998816],[1105.7,0.998841],[1106.2,0.998853],[1107.0,0.998855],[1107.5,0.998844],[1108.0,0.998828],[1108.5,0.998813],[1109.1,0.998800],[1109.6,0.998784],
[1110.1,0.998779],[1110.6,0.998797],[1111.1,0.998806],[1111.7,0.998811],[1112.2,0.998808],[1112.7,0.998791],[1113.2,0.998778],[1113.8,0.998770],[1114.3,0.998762],[1114.8,0.998753],
[1115.1,0.998743],[1115.3,0.998781],[1115.6,0.998847],[1115.8,0.998916],[1116.4,0.998904],[1116.9,0.998885],[1117.4,0.998872],[1117.9,0.998869],[1118.4,0.998872],[1119.0,0.998872],
[1119.8,0.998871],[1120.5,0.998871],[1121.1,0.998875],[1121.6,0.998894],[1122.1,0.998916],[1122.6,0.998907],[1123.1,0.998894],[1123.7,0.998882],[1124.2,0.998869],[1125.0,0.998866],
[1125.5,0.998860],[1126.0,0.998844],[1126.5,0.998860],[1127.1,0.998891],[1127.6,0.998879],[1128.1,0.998860],[1128.6,0.998844],[1129.2,0.998847],[1129.7,0.998853],[1130.2,0.998857],
[1130.7,0.998841],[1131.5,0.998833],[1132.0,0.998831],[1132.5,0.998844],[1133.1,0.998860],[1133.6,0.998888],[1134.1,0.998907],[1134.6,0.998905],[1135.2,0.998897],[1135.7,0.998882],
[1136.2,0.998904],[1136.7,0.998919],[1137.2,0.998927],[1137.8,0.998923],[1138.3,0.998907],[1138.8,0.998894],[1139.3,0.998879],[1139.8,0.998863],[1140.4,0.998847],[1140.9,0.998835],
[1141.4,0.998841],[1141.9,0.998844],[1142.5,0.998885],[1143.0,0.998907],[1143.5,0.998897],[1144.0,0.998885],[1144.5,0.998866],[1145.1,0.998860],[1145.6,0.998875],[1146.1,0.998866],
[1146.6,0.998860],[1147.2,0.998853],[1147.7,0.998847],[1148.2,0.998838],[1148.7,0.998822],[1149.2,0.998803],[1149.8,0.998787],[1150.3,0.998772],[1150.8,0.998756],[1151.3,0.998743],
[1151.9,0.998731],[1152.4,0.998718],[1152.9,0.998706],[1153.4,0.998693],[1153.9,0.998684],[1154.5,0.998681],[1155.0,0.998681],[1155.5,0.998690],[1156.0,0.998698],[1156.6,0.998687],
[1157.1,0.998674],[1157.6,0.998690],[1158.1,0.998693],[1158.6,0.998699],[1159.2,0.998706],[1159.7,0.998696],[1160.2,0.998681],[1160.7,0.998665],[1161.2,0.998652],[1161.8,0.998643],
[1162.3,0.998634],[1162.8,0.998624],[1163.3,0.998612],[1163.9,0.998599],[1164.4,0.998587],[1164.9,0.998577],[1165.4,0.998568],[1165.9,0.998560],[1166.5,0.998558],[1167.0,0.998558],
[1167.5,0.998577],[1168.0,0.998605],[1168.6,0.998618],[1169.1,0.998624],[1169.3,0.998646],[1169.6,0.998681],[1169.9,0.998696],[1170.4,0.998690],[1170.9,0.998671],[1171.4,0.998662],
[1171.9,0.998652],[1172.5,0.998643],[1173.0,0.998634],[1173.5,0.998630],[1174.0,0.998624],[1174.6,0.998615],[1175.1,0.998608],[1175.6,0.998624],[1176.1,0.998634],[1176.6,0.998621],
[1177.2,0.998612],[1177.7,0.998605],[1178.2,0.998608],[1178.7,0.998608],[1179.3,0.998612],[1179.8,0.998602],[1180.3,0.998590],[1180.8,0.998577],[1181.3,0.998568],[1181.9,0.998561],
[1182.4,0.998555],[1182.9,0.998549],[1183.4,0.998539],[1184.0,0.998527],[1184.5,0.998543],[1184.7,0.998577],[1185.0,0.998618],[1185.5,0.998612],[1186.0,0.998602],[1186.6,0.998612],
[1187.1,0.998618],[1187.6,0.998615],[1188.1,0.998602],[1188.6,0.998590],[1189.2,0.998587],[1189.7,0.998602],[1190.2,0.998612],[1190.7,0.998602],[1191.3,0.998593],[1191.8,0.998612],
[1192.0,0.998627],[1192.6,0.998624],[1193.1,0.998618],[1193.6,0.998634],[1194.1,0.998646],[1194.6,0.998646],[1195.2,0.998643],[1195.7,0.998630],[1196.2,0.998624],[1196.7,0.998640],
[1197.3,0.998643],[1197.8,0.998634],[1198.3,0.998624],[1198.8,0.998608],[1199.3,0.998596],[1199.9,0.998583]
];

const width = 3320, height = 1851;
const marginLeft = 148, marginRight = 106, marginTop = 28, marginBottom = 76;
const innerW = width - marginLeft - marginRight;
const innerH = height - marginTop - marginBottom;
const tickLength = 31;
const axisColor = "#262626";

const xLabelOf = new Map(xTickIndex.map((d, i) => [d, xTickLabels[i]]));
const yLabelOf = new Map(yTickValues.map((d, i) => [d, yTickLabels[i]]));

const chart = Plot.plot({
  width, height,
  marginLeft, marginRight, marginTop, marginBottom,
  style: {
    fontFamily: "'Liberation Sans', Arial, Helvetica, sans-serif",
    fontSize: "35.5px",
    color: axisColor,
    background: "#ffffff",
    overflow: "visible"
  },
  x: {type: "linear", domain: [0, 1200], axis: null},
  y: {type: "linear", domain: [0.998, 1], axis: null},
  marks: [
    Plot.ruleX(xTickIndex, {x: d => d, stroke: "#dcdcdc", strokeWidth: 1.6}),
    Plot.line(readings, {x: d => d[0], y: d => d[1], stroke: "#0072BD", strokeWidth: 2.1, strokeLinejoin: "miter"}),
    Plot.tickY(yTickValues, {y: d => d, insetRight: innerW - tickLength, stroke: axisColor, strokeWidth: 2}),
    Plot.tickY(yTickValues, {y: d => d, insetLeft: innerW - tickLength, stroke: axisColor, strokeWidth: 2}),
    Plot.tickX(xTickIndex, {x: d => d, insetTop: innerH - tickLength, stroke: axisColor, strokeWidth: 2}),
    Plot.tickX(xTickIndex, {x: d => d, insetBottom: innerH - tickLength, stroke: axisColor, strokeWidth: 2}),
    Plot.frame({stroke: axisColor, strokeWidth: 2}),
    Plot.axisY(yTickValues, {anchor: "left", tickSize: 0, tickPadding: 17, tickFormat: d => yLabelOf.get(d), label: null, fill: axisColor}),
    Plot.axisX(xTickIndex, {anchor: "bottom", tickSize: 0, tickPadding: 27, tickFormat: d => xLabelOf.get(d), label: null, fill: axisColor})
  ]
});

document.getElementById("chart").appendChild(chart);
</script>
</body>
</html>
